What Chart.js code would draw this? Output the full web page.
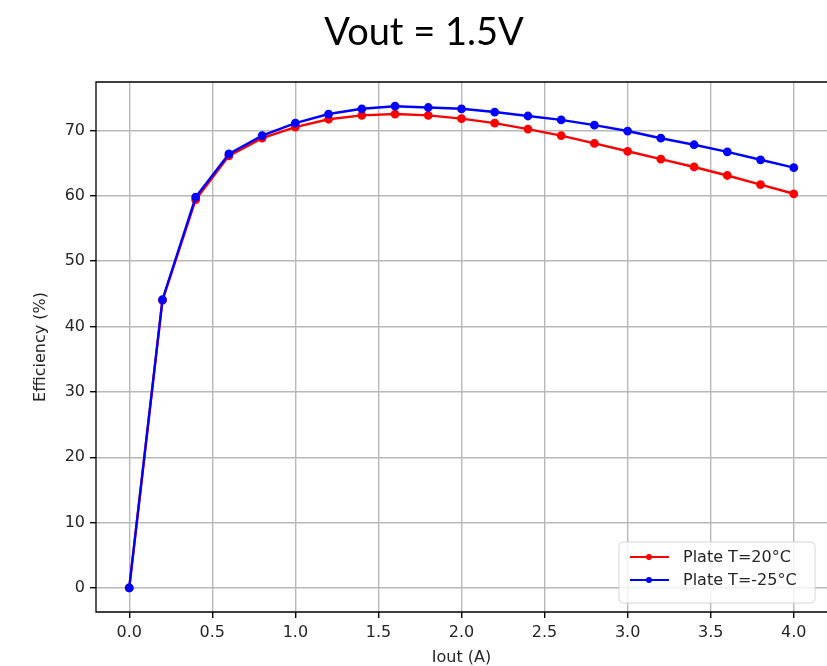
<!DOCTYPE html>
<html>
<head>
<meta charset="utf-8">
<script src="https://cdn.jsdelivr.net/npm/chart.js@4"></script>
<style>
  html, body { margin: 0; padding: 0; background: #fff; overflow: hidden; }
  canvas { display: block; }
</style>
</head>
<body>
<canvas id="line-chart" width="827" height="666"></canvas>
<script>
// Iout (A)
const iout = [0.0, 0.2, 0.4, 0.6, 0.8, 1.0, 1.2, 1.4, 1.6, 1.8, 2.0, 2.2, 2.4, 2.6, 2.8, 3.0, 3.2, 3.4, 3.6, 3.8, 4.0];
// efficiency (%) for each plate temperature
const eff20 = [0, 44.0, 59.4, 66.1, 68.8, 70.5, 71.7, 72.3, 72.5, 72.3, 71.8, 71.1, 70.2, 69.2, 68.0, 66.8, 65.6, 64.4, 63.1, 61.7, 60.3];
const effMinus25 = [0, 44.1, 59.8, 66.4, 69.2, 71.1, 72.5, 73.3, 73.7, 73.5, 73.3, 72.8, 72.2, 71.6, 70.8, 69.9, 68.8, 67.8, 66.7, 65.5, 64.3];
const xTicks = [0.0, 0.5, 1.0, 1.5, 2.0, 2.5, 3.0, 3.5, 4.0];
const yTicks = [0, 10, 20, 30, 40, 50, 60, 70];
const seriesNames = ['Plate T=20°C', 'Plate T=-25°C'];

var ctx = document.getElementById("line-chart");

const tickFont = { family: 'DejaVu Sans', size: 16 };

// title + frame + legend inside the plot (matplotlib style)
const extras = {
  id: 'extras',
  afterDraw(chart) {
    const c = chart.ctx;
    const a = chart.chartArea;
    c.save();
    // frame: right side falls just outside the picture in the original
    c.strokeStyle = '#000';
    c.lineWidth = 1.3;
    c.beginPath();
    c.moveTo(a.right + 2, a.top);
    c.lineTo(a.left, a.top);
    c.lineTo(a.left, a.bottom);
    c.lineTo(a.right + 2, a.bottom);
    c.stroke();

    c.fillStyle = '#000';
    c.font = '38px Lato';
    c.textAlign = 'center';
    c.textBaseline = 'middle';
    c.fillText('Vout = 1.5V', 424, 33);

    // legend box
    const bx = 619, by = 542, bw = 196, bh = 61;
    c.fillStyle = 'rgba(255,255,255,0.8)';
    c.strokeStyle = '#d6d6d6';
    c.lineWidth = 1;
    c.beginPath();
    c.roundRect(bx, by, bw, bh, 4);
    c.fill();
    c.stroke();
    c.font = '16px DejaVu Sans';
    c.textAlign = 'left';
    chart.data.datasets.forEach(function(ds, i) {
      const y = by + 15 + i * 23;
      c.strokeStyle = ds.borderColor;
      c.fillStyle = ds.borderColor;
      c.lineWidth = 2.2;
      c.beginPath();
      c.moveTo(bx + 11, y);
      c.lineTo(bx + 50, y);
      c.stroke();
      c.beginPath();
      c.arc(bx + 30, y, 3, 0, Math.PI * 2);
      c.fill();
      c.fillStyle = '#262626';
      c.fillText(ds.label, bx + 64, y + 1);
    });
    c.restore();
  }
};

const config = {
  type: 'line',
  data: {
    datasets: [{
      label: seriesNames[0],
      data: iout.map((x, i) => ({ x: x, y: eff20[i] })),
      borderColor: '#ff0000',
      backgroundColor: '#ff0000',
      borderWidth: 2.4,
      pointRadius: 3.2,
      pointHoverRadius: 3.2,
      order: 1
    }, {
      label: seriesNames[1],
      data: iout.map((x, i) => ({ x: x, y: effMinus25[i] })),
      borderColor: '#0000ff',
      backgroundColor: '#0000ff',
      borderWidth: 2.4,
      pointRadius: 3.2,
      pointHoverRadius: 3.2,
      order: 0
    }]
  },
  options: {
    responsive: false,
    animation: false,
    layout: { autoPadding: false, padding: { top: 82, left: 0, right: 0, bottom: 0 } },
    plugins: {
      legend: { display: false },
      tooltip: { enabled: false }
    },
    scales: {
      x: {
        type: 'linear',
        min: -0.2,
        max: 4.2,
        afterBuildTicks: function(axis) { axis.ticks = xTicks.map(v => ({ value: v })); },
        afterFit: function(axis) { axis.height = 54; axis.paddingRight = 0; },
        grid: { color: '#b8b8b8', lineWidth: 1.4, tickColor: '#000', tickLength: 6 },
        border: { display: false },
        ticks: {
          font: tickFont, color: '#262626', padding: 5, maxRotation: 0,
          callback: v => v.toFixed(1)
        },
        title: {
          display: true, text: 'Iout (A)', font: tickFont, color: '#262626',
          padding: { top: 0, bottom: -1 }
        }
      },
      y: {
        min: -3.68,
        max: 77.4,
        afterBuildTicks: function(axis) { axis.ticks = yTicks.map(v => ({ value: v })); },
        afterFit: function(axis) { axis.width = 96; },
        grid: { color: '#b8b8b8', lineWidth: 1.4, tickColor: '#000', tickLength: 6 },
        border: { display: false },
        ticks: { font: tickFont, color: '#262626', padding: 5 },
        title: {
          display: true, text: 'Efficiency (%)', font: tickFont, color: '#262626',
          padding: { top: 31, bottom: 0 }
        }
      }
    }
  },
  plugins: [extras]
};

var chart = new Chart(ctx, config);
</script>
</body>
</html>
